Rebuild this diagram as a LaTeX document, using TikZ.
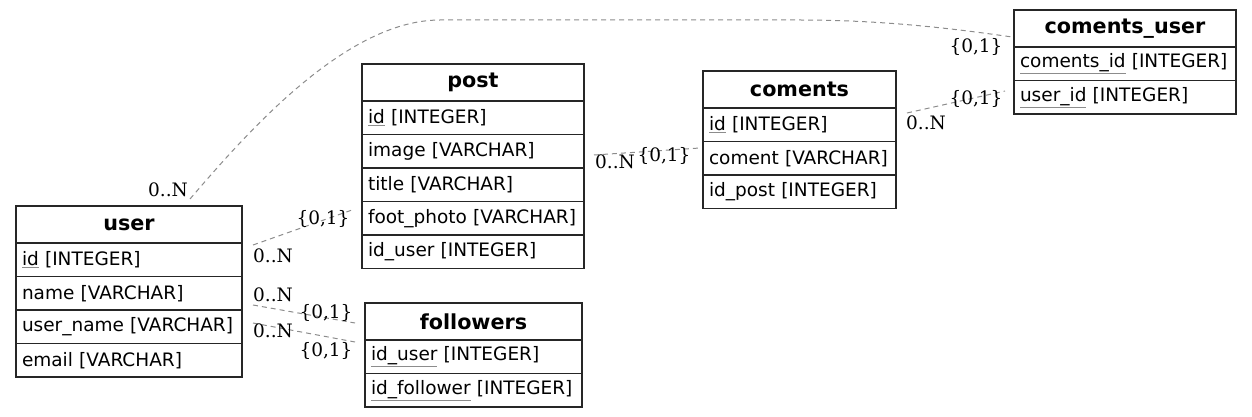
\documentclass[tikz,border=0pt]{standalone}
\usepackage{fontspec}
\setmainfont{DejaVu Sans}
\newfontfamily\lblfont{DejaVu Serif}
\newcommand\pkey[1]{{\color{black!45}\underline{\color{black}#1}}}
\tikzset{
  tcell/.style={draw=black!85, line width=1.4pt, minimum height=33.5pt, inner xsep=6pt, inner ysep=0pt,
     outer sep=0pt, text width=#1, align=left, anchor=north west, font=\fontsize{18.5}{22}\selectfont},
  thead/.style={tcell=#1, minimum height=37pt, align=center, font=\fontsize{20.7}{24}\selectfont\bfseries},
  rel/.style={draw=black!45, line width=1pt, dash pattern=on 5pt off 4pt},
  card/.style={inner sep=0pt, font=\fontsize{18.5}{22}\lblfont},
}
\begin{document}
\begin{tikzpicture}[x=1pt,y=-1pt]
\useasboundingbox (0,0) rectangle (1252,417);
% user
\node[thead=214pt] (user-h) at (16,206) {user};
\node[tcell=214pt] (user-id) at (user-h.south west) {\pkey{id} [INTEGER]};
\node[tcell=214pt] (user-name) at (user-id.south west) {name [VARCHAR]};
\node[tcell=214pt] (user-uname) at (user-name.south west) {user\_name [VARCHAR]};
\node[tcell=214pt] (user-email) at (user-uname.south west) {email [VARCHAR]};
% post
\node[thead=210pt] (post-h) at (362,64) {post};
\node[tcell=210pt] (post-id) at (post-h.south west) {\pkey{id} [INTEGER]};
\node[tcell=210pt] (post-image) at (post-id.south west) {image [VARCHAR]};
\node[tcell=210pt] (post-title) at (post-image.south west) {title [VARCHAR]};
\node[tcell=210pt] (post-foot) at (post-title.south west) {foot\_photo [VARCHAR]};
\node[tcell=210pt] (post-iduser) at (post-foot.south west) {id\_user [INTEGER]};
% coments
\node[thead=181pt] (com-h) at (703,71) {coments};
\node[tcell=181pt] (com-id) at (com-h.south west) {\pkey{id} [INTEGER]};
\node[tcell=181pt] (com-coment) at (com-id.south west) {coment [VARCHAR]};
\node[tcell=181pt] (com-idpost) at (com-coment.south west) {id\_post [INTEGER]};
% coments_user
\node[thead=210pt] (cu-h) at (1014,10) {coments\_user};
\node[tcell=210pt] (cu-cid) at (cu-h.south west) {\pkey{coments\_id} [INTEGER]};
\node[tcell=210pt] (cu-uid) at (cu-cid.south west) {\pkey{user\_id} [INTEGER]};
% followers
\node[thead=205pt] (fo-h) at (365,303) {followers};
\node[tcell=205pt] (fo-iduser) at (fo-h.south west) {\pkey{id\_user} [INTEGER]};
\node[tcell=205pt] (fo-idfol) at (fo-iduser.south west) {\pkey{id\_follower} [INTEGER]};
% connector end points
\coordinate (e1a) at (190,199);
\coordinate (e1b) at (1012,37);
\coordinate (e2a) at (253,245);
\coordinate (e2b) at (352,210);
\coordinate (e3a) at (594,155);
\coordinate (e3b) at (700,148);
\coordinate (e4a) at (907,113);
\coordinate (e4b) at (1005,91);
\coordinate (e5a) at (253,305);
\coordinate (e5b) at (355,323);
\coordinate (e6a) at (253,323);
\coordinate (e6b) at (355,342);
% connectors
\draw[rel] (e1a) .. controls (245,135) and (345,20) .. (440,20) -- (800,20) .. controls (880,20) and (950,28) .. (e1b);
\draw[rel] (e2a) -- (e2b);
\draw[rel] (e3a) -- (e3b);
\draw[rel] (e4a) -- (e4b);
\draw[rel] (e5a) -- (e5b);
\draw[rel] (e6a) -- (e6b);
% cardinalities
\node[card] (l1a) at (168,190) {0..N};
\node[card] (l1b) at (976,47) {\{0,1\}};
\node[card] (l2a) at (273,256) {0..N};
\node[card] (l2b) at (323,219) {\{0,1\}};
\node[card] (l3a) at (615,162) {0..N};
\node[card] (l3b) at (664,156) {\{0,1\}};
\node[card] (l4a) at (926,123) {0..N};
\node[card] (l4b) at (976,99) {\{0,1\}};
\node[card] (l5a) at (273,295) {0..N};
\node[card] (l5b) at (326,313) {\{0,1\}};
\node[card] (l6a) at (273,331) {0..N};
\node[card] (l6b) at (326,351) {\{0,1\}};
\end{tikzpicture}
\end{document}
